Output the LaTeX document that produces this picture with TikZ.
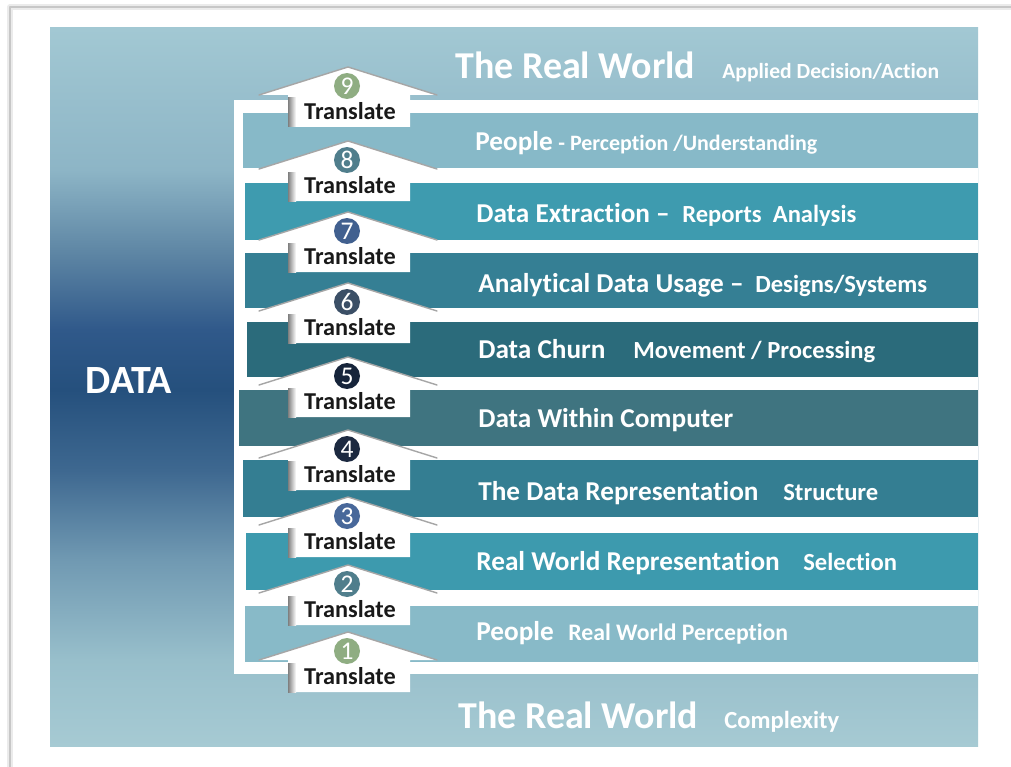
\documentclass[tikz,border=0pt]{standalone}
\usepackage{fontspec}
\setmainfont{Carlito}[Ligatures=NoCommon]
\usetikzlibrary{positioning}

\definecolor{bgLight}{HTML}{A2C8D3}
\definecolor{bgDark}{HTML}{25507D}
\definecolor{bgA}{HTML}{A6CAD3}
\definecolor{bgB}{HTML}{98BFCB}
\definecolor{bgC}{HTML}{7099B2}
\definecolor{bgD}{HTML}{3E6890}
\definecolor{bgE}{HTML}{30598A}
\definecolor{bgF}{HTML}{5F87A5}
\definecolor{bgG}{HTML}{8DB5C6}
\definecolor{bandA}{HTML}{87B9C8}
\definecolor{bandB}{HTML}{3E9BAF}
\definecolor{bandC}{HTML}{357F94}
\definecolor{bandD}{HTML}{2B6B7B}
\definecolor{bandE}{HTML}{3F7480}
\definecolor{bandF}{HTML}{347E92}
\definecolor{bandG}{HTML}{3D9AAE}
\definecolor{bandH}{HTML}{88BAC8}
\definecolor{numA}{HTML}{8FAD82}
\definecolor{numB}{HTML}{507E8C}
\definecolor{numC}{HTML}{41608F}
\definecolor{numD}{HTML}{3B4F66}
\definecolor{numE}{HTML}{16243A}
\definecolor{numF}{HTML}{1C2940}
\definecolor{numG}{HTML}{48689A}

% light at top and bottom, dark behind DATA
\pgfdeclareverticalshading{datashade}{100bp}{
  color(0bp)=(bgA); color(25bp)=(bgA);
  color(31bp)=(bgB); color(38bp)=(bgC);
  color(44.2bp)=(bgD); color(49.8bp)=(bgDark);
  color(54bp)=(bgE); color(59.5bp)=(bgF);
  color(65.1bp)=(bgG); color(75bp)=(bgLight); color(100bp)=(bgLight)}

\begin{document}
\begin{tikzpicture}[x=0.02cm, y=-0.02cm, line join=round, line cap=round,
  bandtext/.style={text=white, font=\bfseries\fontsize{15.5}{18}\selectfont, anchor=base west, inner sep=0pt},
  subtext/.style={text=white, font=\bfseries\fontsize{#1}{16}\selectfont, anchor=base west, inner sep=0pt},
  subtext/.default=14,
  worldtext/.style={text=white, font=\bfseries\fontsize{21.6}{24}\selectfont, anchor=base west, inner sep=0pt},
  numcirc/.style={circle, fill=#1, text=white, minimum size=0.52cm, inner sep=0pt, font=\fontsize{14.5}{15}\selectfont},
  translabel/.style={text=black!90, font=\bfseries\fontsize{13.8}{16}\selectfont, inner sep=0pt}]
 \useasboundingbox (0,0) rectangle (1011,767);
 \fill[white] (0,0) rectangle (1011,767);
 % page edge
 \draw[black!8, line width=3pt] (10,767) -- (10,7) -- (1011,7);
 \draw[black!22, line width=0.6pt] (10,767) -- (10,7) -- (1011,7);
 % backdrop and inner panel
 \shade[shading=datashade] (50,28) rectangle (978,746);
 \fill[white] (234,100) rectangle (978,674);
 \node[text=white, font=\bfseries\fontsize{22.8}{26}\selectfont] (data) at (129,381) {DATA};
 % layers
 \foreach \t/\b/\l/\c in {113/168/243/bandA, 183/240/245/bandB, 253/308/245/bandC,
   322/377/247/bandD, 390/446/239/bandE, 460/517/243/bandF, 533/590/246/bandG, 606/662/245/bandH}
 \fill[\c] (\l,\t) rectangle (978,\b);
 % translate arrows
 \foreach \n/\a/\c in {9/67/numA, 8/141/numB, 7/212/numC, 6/283/numD, 5/357/numE,
   4/430/numF, 3/497/numG, 2/565/numB, 1/632/numA}{
  \fill[white] (259,\a+28) -- (348,\a) -- (437,\a+28) -- (410,\a+28) -- (410,\a+60)
   -- (288,\a+60) -- (288,\a+28) -- cycle;
  \draw[black!35, line width=0.8pt] (259,\a+28) -- (348,\a) -- (437,\a+28);
  \shade[left color=black!50, right color=white] (288,\a+31) rectangle (296,\a+60);
  \node[numcirc=\c] (n\n) at (347,\a+19) {\n};
  \node[translabel] (t\n) at (350,\a+44) {Translate};
 }
 % labels
 \node[worldtext] (top) at (455,79) {The Real World};
 \node[subtext=12.3] (topsub) at (722,79) {Applied Decision/Action};
 \node[bandtext] (p1) at (475,151) {People};
 \node[subtext=12.5] (p1sub) at (558,151) {- Perception /Understanding};
 \node[bandtext] (ex) at (476,222) {Data Extraction –};
 \node[subtext] (exsub) at (682,222) {Reports~~Analysis};
 \node[bandtext] (an) at (478,292) {Analytical Data Usage –};
 \node[subtext] (ansub) at (755,292) {Designs/Systems};
 \node[bandtext] (ch) at (478,358) {Data Churn};
 \node[subtext] (chsub) at (633,358) {Movement / Processing};
 \node[bandtext] (wc) at (478,427) {Data Within Computer};
 \node[bandtext] (dr) at (478,500) {The Data Representation};
 \node[subtext] (drsub) at (783,500) {Structure};
 \node[bandtext] (rw) at (476,570) {Real World Representation};
 \node[subtext] (rwsub) at (803,570) {Selection};
 \node[bandtext] (p2) at (476,640) {People};
 \node[subtext=13.5] (p2sub) at (568,640) {Real World Perception};
 \node[worldtext] (bot) at (458,728) {The Real World};
 \node[subtext] (botsub) at (724,728) {Complexity};
\end{tikzpicture}
\end{document}
